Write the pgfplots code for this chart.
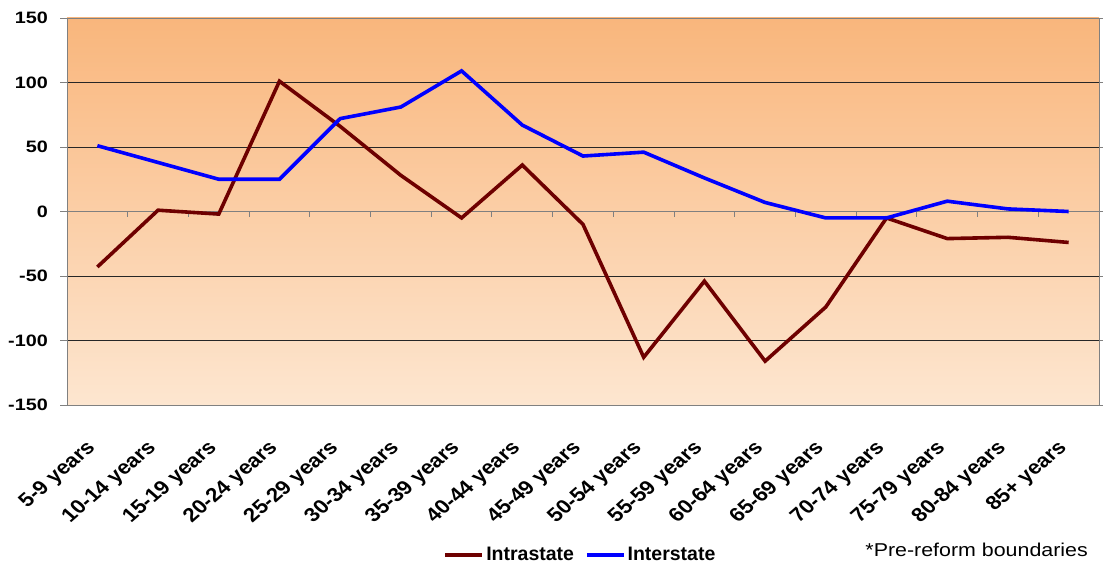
\documentclass[border=0pt]{standalone}
\usepackage{fontspec}
\setmainfont{Liberation Sans}
\usepackage{pgfplots}
\pgfplotsset{compat=1.18}

\definecolor{intracol}{RGB}{110,0,0}
\definecolor{intercol}{RGB}{0,0,255}
\definecolor{bgtop}{RGB}{249,182,124}
\definecolor{bgbottom}{RGB}{253,230,208}
\definecolor{framecol}{RGB}{128,128,128}

% category slots: 17 columns across a 1032bp wide plot starting at 67bp
\newcommand{\slotw}{60.70588}

\begin{document}
\begin{tikzpicture}
\useasboundingbox (0,0) rectangle (1103bp,567bp);
\begin{axis}[
  at={(67bp,162bp)}, anchor=south west,
  scale only axis,
  width=1032bp, height=387bp,
  xmin=-0.5, xmax=16.5,
  ymin=-150, ymax=150,
  ytick={-150,-100,-50,0,50,100,150},
  xtick=\empty,
  y tick style={draw=framecol, line width=0.9bp},
  tick align=outside,
  major tick length=7bp,
  axis line style={draw=framecol, line width=0.9bp},
  axis background/.style={top color=bgtop, bottom color=bgbottom},
  ymajorgrids,
  grid style={draw=black!85, line width=0.8bp},
  yticklabel={\scalebox{1.2}[1]{\pgfmathprintnumber[assume math mode=true]{\tick}}},
  y tick label style={font=\bfseries\fontsize{16.5bp}{18bp}\selectfont, inner sep=0pt, xshift=-12bp},
  legend style={at={(0.4976,-0.3876)}, anchor=center, draw=none, fill=none,
    legend columns=2, font=\bfseries\fontsize{19.5bp}{21bp}\selectfont,
    /tikz/every even column/.append style={column sep=9bp}},
  legend image code/.code={\draw[#1] (0bp,0bp) -- (37bp,0bp);},
]
% zero line with category separators
\draw[framecol, line width=0.9bp] (axis cs:-0.5,0) -- (axis cs:16.5,0);
\pgfplotsinvokeforeach{0.5,1.5,...,15.5}{
  \draw[framecol, line width=0.9bp] (axis cs:#1,0) -- ++(0pt,-6bp);
}
\addplot[intracol, line width=3.6bp, no markers] coordinates {
  (0,-43) (1,1) (2,-2) (3,101) (4,66) (5,28) (6,-5) (7,36) (8,-10)
  (9,-113) (10,-54) (11,-116) (12,-74) (13,-5) (14,-21) (15,-20) (16,-24)
};
\addlegendentry{Intrastate}
\addplot[intercol, line width=3.6bp, no markers] coordinates {
  (0,51) (1,38) (2,25) (3,25) (4,72) (5,81) (6,109) (7,67) (8,43)
  (9,46) (10,26) (11,7) (12,-5) (13,-5) (14,8) (15,2) (16,0)
};
\addlegendentry{Interstate}
\end{axis}
% slanted category labels (rotated, slightly widened type)
\foreach \lab [count=\i from 0] in {5-9 years,10-14 years,15-19 years,20-24 years,25-29 years,30-34 years,35-39 years,40-44 years,45-49 years,50-54 years,55-59 years,60-64 years,65-69 years,70-74 years,75-79 years,80-84 years,85+ years}{
  \node[cm={0.8132,0.7071,-0.8132,0.7071,(0,0)}, anchor=east, inner sep=0pt,
        font=\bfseries\fontsize{19.5bp}{21bp}\selectfont]
    at ({67bp+\slotw bp*(\i+0.5)-5bp},122bp) {\lab};
}
\node[anchor=base east, font=\fontsize{18.6bp}{20bp}\selectfont, inner sep=0pt] at (1088bp,11bp) {\scalebox{1.15}[1]{*Pre-reform boundaries}};
\end{tikzpicture}
\end{document}
